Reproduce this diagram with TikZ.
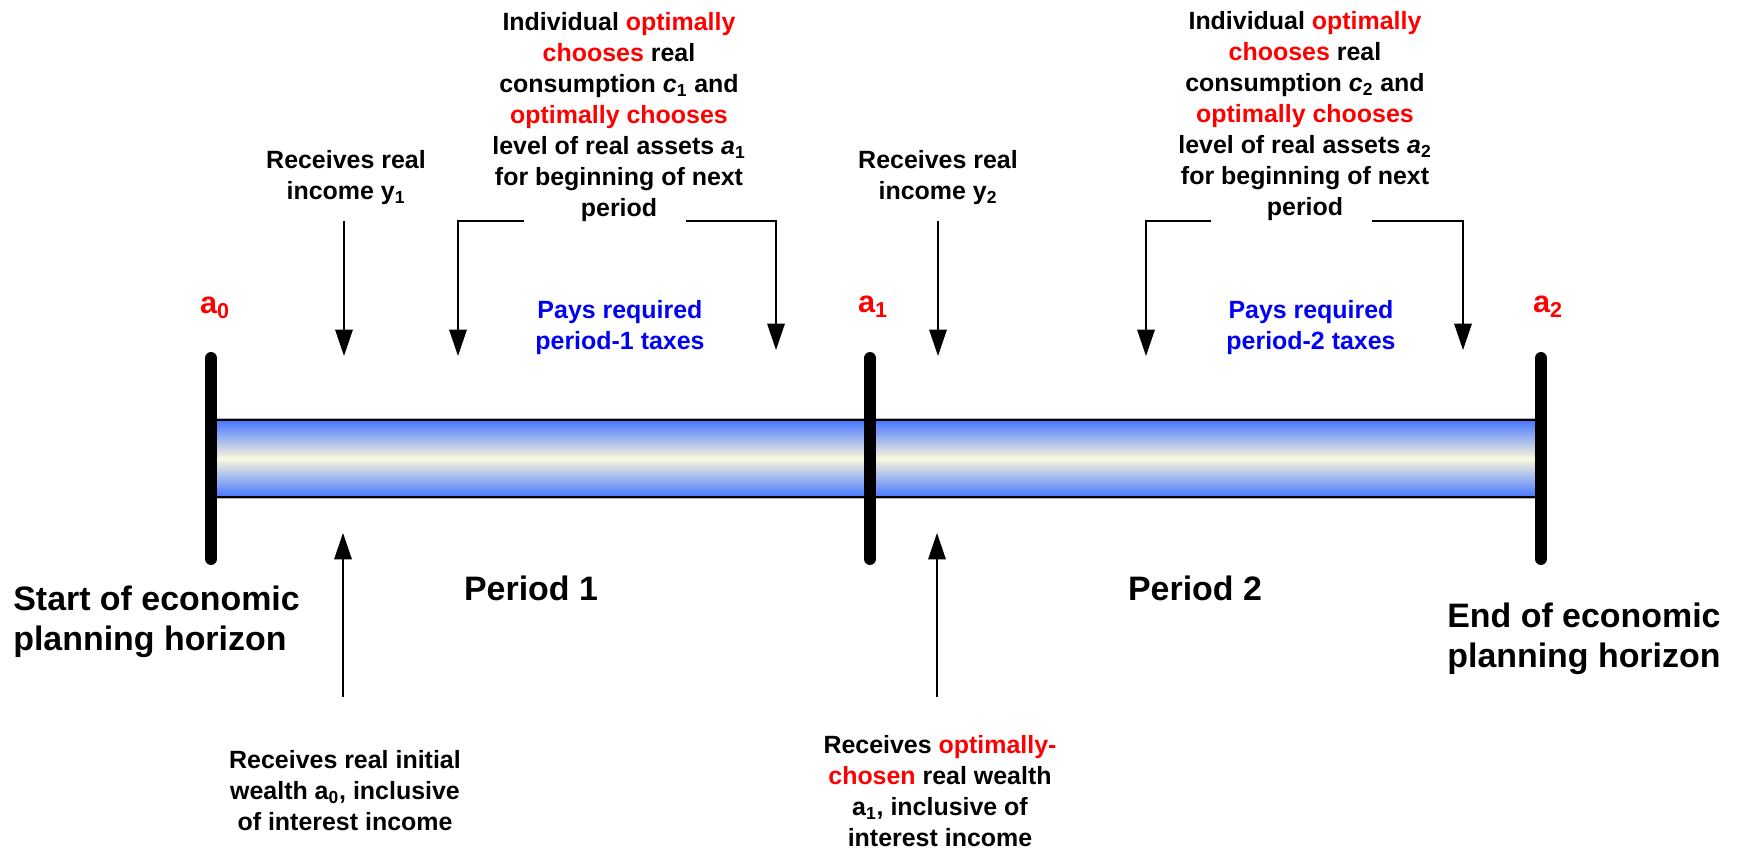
\documentclass[tikz,border=0pt]{standalone}
\usepackage{fontspec}
\setmainfont{Liberation Sans}
\usetikzlibrary{arrows.meta,positioning}
\definecolor{tubeblue}{RGB}{70,118,255}
\definecolor{tubecream}{RGB}{250,248,222}
\definecolor{taxblue}{RGB}{0,0,245}
\newcommand{\hl}[1]{\textcolor{red}{#1}}
\newcommand{\notefont}{\fontsize{14.2}{17.6}\selectfont\bfseries}
\newcommand{\headfont}{\fontsize{19.3}{22.7}\selectfont\bfseries}

\begin{document}
\begin{tikzpicture}[x=0.02cm, y=-0.02cm,
  note/.style={font=\notefont, align=center, inner sep=0pt},
  head/.style={font=\headfont, align=left, inner sep=0pt},
  assetlbl/.style={font=\fontsize{17.5}{20}\selectfont\bfseries, text=red, inner sep=0pt},
  arr/.style={line width=0.75pt, -{Triangle[length=15pt,width=10pt]}},
  bar/.style={line width=6.8pt, line cap=round}]
\useasboundingbox (0,0) rectangle (1742,857);

% Draw the time tube
\shade[top color=tubeblue, bottom color=tubeblue, middle color=tubecream]
  (211,420) rectangle (1541,497);
\draw[gray!60, line width=0.6pt] (211,418.3) -- (1541,418.3);
\draw[gray!60, line width=0.6pt] (211,498.7) -- (1541,498.7);
\draw[line width=1.1pt] (211,420) -- (1541,420);
\draw[line width=1.1pt] (211,497) -- (1541,497);

% Draw the period boundaries
\coordinate (bar0t) at (211,358); \coordinate (bar0b) at (211,559);
\coordinate (bar1t) at (870,358); \coordinate (bar1b) at (870,559);
\coordinate (bar2t) at (1541,358); \coordinate (bar2b) at (1541,559);
\draw[bar] (bar0t) -- (bar0b);
\draw[bar] (bar1t) -- (bar1b);
\draw[bar] (bar2t) -- (bar2b);

% Asset labels
\node[assetlbl] (a0lbl) at (215,308) {a\textsubscript{0}};
\node[assetlbl] (a1lbl) at (873,307) {a\textsubscript{1}};
\node[assetlbl] (a2lbl) at (1548,307) {a\textsubscript{2}};

% Period 1 labels
\node[note] (inc1) at (346,178) {Receives real\\income y\textsubscript{1}};
\node[note] (choose1) at (619,117) {Individual \hl{optimally}\\\hl{chooses} real\\consumption \textit{c}\textsubscript{1} and\\\hl{optimally chooses}\\level of real assets \textit{a}\textsubscript{1}\\for beginning of next\\period};
\node[note, text=taxblue] (tax1) at (620,328) {Pays required\\period-1 taxes};
\node[note] (wlth0) at (345,791) {Receives real initial\\wealth a\textsubscript{0}, inclusive\\of interest income};

% Period 2 labels
\node[note] (inc2) at (938,178) {Receives real\\income y\textsubscript{2}};
\node[note] (choose2) at (1305,116) {Individual \hl{optimally}\\\hl{chooses} real\\consumption \textit{c}\textsubscript{2} and\\\hl{optimally chooses}\\level of real assets \textit{a}\textsubscript{2}\\for beginning of next\\period};
\node[note, text=taxblue] (tax2) at (1311,328) {Pays required\\period-2 taxes};
\node[note] (wlth1) at (940,791) {Receives \hl{optimally-}\\\hl{chosen} real wealth\\a\textsubscript{1}, inclusive of\\interest income};

% Horizon and period names
\node[head, anchor=west] (start) at (13,622) {Start of economic\\planning horizon};
\node[head, anchor=west] (end) at (1447,639) {End of economic\\planning horizon};
\node[head] (per1) at (531,588) {Period 1};
\node[head] (per2) at (1195,588) {Period 2};

% Arrow end points
\coordinate (inc1top) at (344,221); \coordinate (inc1tip) at (344,356);
\coordinate (inc2top) at (938,221); \coordinate (inc2tip) at (938,356);
\coordinate (br1l) at (524,221); \coordinate (tip1l) at (458,356);
\coordinate (br1r) at (686,221); \coordinate (tip1r) at (776,350);
\coordinate (br2l) at (1211,221); \coordinate (tip2l) at (1146,356);
\coordinate (br2r) at (1372,221); \coordinate (tip2r) at (1463,350);
\coordinate (wlth0bot) at (343,697); \coordinate (wlth0tip) at (343,533);
\coordinate (wlth1bot) at (937,697); \coordinate (wlth1tip) at (937,533);

% Draw the arrows
\draw[arr] (inc1top) -- (inc1tip);
\draw[arr] (inc2top) -- (inc2tip);
\draw[arr] (br1l) -| (tip1l);
\draw[arr] (br1r) -| (tip1r);
\draw[arr] (br2l) -| (tip2l);
\draw[arr] (br2r) -| (tip2r);
\draw[arr] (wlth0bot) -- (wlth0tip);
\draw[arr] (wlth1bot) -- (wlth1tip);
\end{tikzpicture}
\end{document}
